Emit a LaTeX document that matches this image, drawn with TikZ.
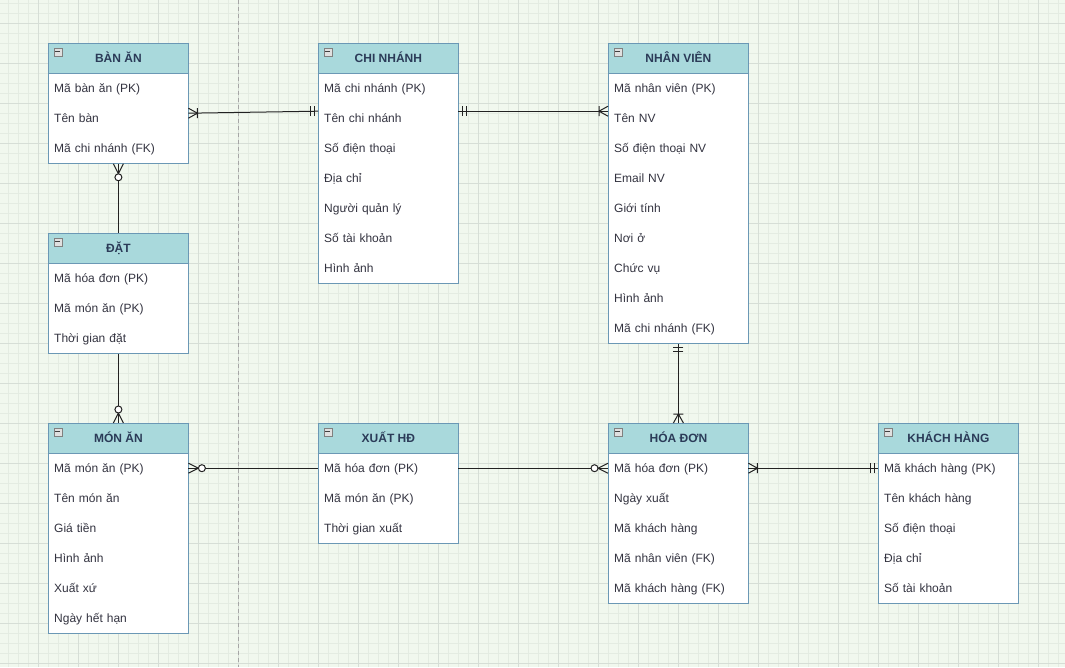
\documentclass[tikz,border=0pt]{standalone}
\usepackage{fontspec}
\setmainfont{Liberation Sans}
\usetikzlibrary{calc}
\definecolor{bgc}{HTML}{F1F8EE}
\definecolor{gridminor}{HTML}{E4ECE2}
\definecolor{gridmajor}{HTML}{D6DED6}
\definecolor{hdrc}{HTML}{A9D9DC}
\definecolor{bordc}{HTML}{6B98B5}
\definecolor{hdrtext}{HTML}{2B3B58}
\definecolor{rowtext}{HTML}{333340}
\definecolor{connc}{HTML}{222222}

\tikzset{
  frame/.style={draw=bordc, fill=white, line width=0.8pt, minimum width=140pt, inner sep=0pt, anchor=north west},
  hdr/.style={draw=bordc, fill=hdrc, line width=0.8pt, minimum width=140pt, minimum height=30pt, inner sep=0pt, anchor=north west,
    text height=8.6pt, text depth=0pt,
    font=\bfseries\fontsize{12}{14}\selectfont, text=hdrtext},
  rowc/.style={minimum height=30pt, text width=128pt, inner xsep=6pt, inner ysep=0pt, align=left, anchor=north west,
    text height=8.6pt, text depth=0.6pt,
    font=\fontsize{12}{14}\selectfont, text=rowtext},
  minusbox/.style={draw=black!50, fill=black!12, line width=0.6pt, minimum size=8pt, inner sep=0pt, anchor=north west,
    path picture={\draw[black!75, line width=1pt] ([xshift=1.6pt]path picture bounding box.west) -- ([xshift=-1.6pt]path picture bounding box.east);}},
  conn/.style={draw=connc, line width=1pt},
}

% #1 name, #2 x, #3 y, #4 title, #5 number of rows, #6 rows
\newcommand{\ertable}[6]{%
  \node[frame, minimum height={30+30*#5}] (#1) at (#2,#3) {};
  \node[hdr] (#1-h) at (#2,#3) {#4};
  \node[minusbox] (#1-m) at ($(#2,#3)+(5.5,4.5)$) {};
  \foreach \r [count=\i] in {#6} {\node[rowc] (#1-\i) at (#2,{#3+30*\i}) {\r};}
}
\newcommand{\mkone}[2]{\begin{scope}[shift={(#1)},rotate=#2]\draw[conn] (4,-5)--(4,5) (8,-5)--(8,5);\end{scope}}
\newcommand{\mkonemany}[2]{\begin{scope}[shift={(#1)},rotate=#2]\draw[conn] (0,-5)--(9,0)--(0,5) (9,-5)--(9,5);\end{scope}}
\newcommand{\mkzeromany}[2]{\begin{scope}[shift={(#1)},rotate=#2]\draw[conn] (0,-5)--(10,0)--(0,5);\draw[conn,fill=white] (13.5,0) circle[radius=3.5];\end{scope}}

\begin{document}
\begin{tikzpicture}[x=1pt,y=-1pt]
\fill[bgc] (0,0) rectangle (1065,667);
\useasboundingbox (0,0) rectangle (1065,667);
\foreach \x in {8,18,...,1058} \draw[gridminor, line width=0.6pt] (\x,0) -- (\x,667);
\foreach \y in {3,13,...,663} \draw[gridminor, line width=0.6pt] (0,\y) -- (1065,\y);
\foreach \x in {38,78,...,1038} \draw[gridmajor, line width=0.8pt] (\x,0) -- (\x,667);
\foreach \y in {23,63,...,663} \draw[gridmajor, line width=0.8pt] (0,\y) -- (1065,\y);
\draw[black!35, line width=0.8pt, dash pattern=on 4pt off 3pt] (238,0) -- (238,667);

\ertable{ban}{48}{43}{BÀN ĂN}{3}{Mã bàn ăn (PK),Tên bàn,Mã chi nhánh (FK)}
\ertable{cn}{318}{43}{CHI NHÁNH}{7}{Mã chi nhánh (PK),Tên chi nhánh,Số điện thoại,Địa chỉ,Người quản lý,Số tài khoản,Hình ảnh}
\ertable{nv}{608}{43}{NHÂN VIÊN}{9}{Mã nhân viên (PK),Tên NV,Số điện thoại NV,Email NV,Giới tính,Nơi ở,Chức vụ,Hình ảnh,Mã chi nhánh (FK)}
\ertable{dat}{48}{233}{ĐẶT}{3}{Mã hóa đơn (PK),Mã món ăn (PK),Thời gian đặt}
\ertable{ma}{48}{423}{MÓN ĂN}{6}{Mã món ăn (PK),Tên món ăn,Giá tiền,Hình ảnh,Xuất xứ,Ngày hết hạn}
\ertable{xhd}{318}{423}{XUẤT HĐ}{3}{Mã hóa đơn (PK),Mã món ăn (PK),Thời gian xuất}
\ertable{hd}{608}{423}{HÓA ĐƠN}{5}{Mã hóa đơn (PK),Ngày xuất,Mã khách hàng,Mã nhân viên (FK),Mã khách hàng (FK)}
\ertable{kh}{878}{423}{KHÁCH HÀNG}{5}{Mã khách hàng (PK),Tên khách hàng,Số điện thoại,Địa chỉ,Số tài khoản}

% BÀN ĂN -- CHI NHÁNH
\draw[conn] ($(ban-2.east)+(0,-5)$) -- ($(cn-2.west)+(0,-7)$);
\mkonemany{$(ban-2.east)+(0,-5)$}{0}
\mkone{$(cn-2.west)+(0,-7)$}{180}
% CHI NHÁNH -- NHÂN VIÊN
\draw[conn] ($(cn-2.east)+(0,-7)$) -- ($(nv-2.west)+(0,-7)$);
\mkone{$(cn-2.east)+(0,-7)$}{0}
\mkonemany{$(nv-2.west)+(0,-7)$}{180}
% BÀN ĂN -- ĐẶT
\draw[conn] (ban.south) -- (dat.north);
\mkzeromany{ban.south}{-90}
% ĐẶT -- MÓN ĂN
\draw[conn] (dat.south) -- (ma.north);
\mkzeromany{ma.north}{90}
% MÓN ĂN -- XUẤT HĐ
\draw[conn] (ma-1.east) -- (xhd-1.west);
\mkzeromany{ma-1.east}{0}
% XUẤT HĐ -- HÓA ĐƠN
\draw[conn] (xhd-1.east) -- (hd-1.west);
\mkzeromany{hd-1.west}{180}
% HÓA ĐƠN -- KHÁCH HÀNG
\draw[conn] (hd-1.east) -- (kh-1.west);
\mkonemany{hd-1.east}{0}
\mkone{kh-1.west}{180}
% NHÂN VIÊN -- HÓA ĐƠN
\draw[conn] (nv.south) -- (hd.north);
\mkone{nv.south}{-90}
\mkonemany{hd.north}{90}
\end{tikzpicture}
\end{document}
